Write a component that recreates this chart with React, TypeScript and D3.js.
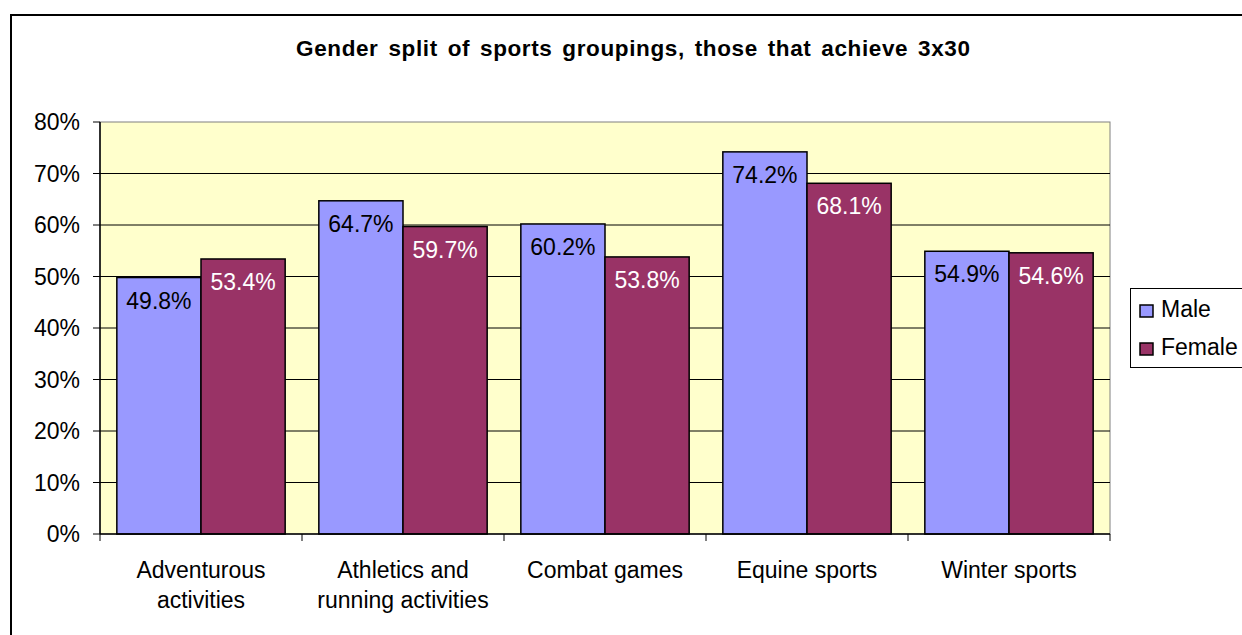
import React from "react";
import * as d3 from "d3";

const categories = [
  ["Adventurous", "activities"],
  ["Athletics and", "running activities"],
  ["Combat games"],
  ["Equine sports"],
  ["Winter sports"],
];
const seriesNames = ["Male", "Female"];
const maleValues = [49.8, 64.7, 60.2, 74.2, 54.9];
const femaleValues = [53.4, 59.7, 53.8, 68.1, 54.6];
const yTicks = [0, 10, 20, 30, 40, 50, 60, 70, 80];
const title = "Gender split of sports groupings, those that achieve 3x30";

const W = 1242;
const H = 635;
const FONT = "'Liberation Sans', Arial, sans-serif";
const colors = ["#9999FF", "#993366"];
const labelColors = ["#000000", "#FFFFFF"];

export default function App() {
  const plot = { left: 100, right: 1110, top: 122, bottom: 534 };
  const x = d3
    .scaleBand<number>()
    .domain(d3.range(categories.length))
    .range([plot.left, plot.right])
    .paddingInner(0)
    .paddingOuter(0);
  const y = d3.scaleLinear().domain([0, 80]).range([plot.bottom, plot.top]);
  const inner = d3
    .scaleBand<number>()
    .domain([0, 1])
    .range([0, x.bandwidth()])
    .paddingOuter(0.2)
    .paddingInner(0);
  const series = [maleValues, femaleValues];

  return (
    <svg
      width={W}
      height={H}
      style={{ position: "absolute", left: 0, top: 0, display: "block" }}
      fontFamily={FONT}
    >
      <rect x={0} y={0} width={W} height={H} fill="#fff" />
      {/* outer border */}
      <rect x={11} y={15} width={W + 50} height={H + 50} fill="none" stroke="#000" strokeWidth={2} />
      {/* title */}
      <text
        x={633}
        y={56}
        textAnchor="middle"
        fontSize={22.5}
        fontWeight="bold"
        textLength={674}
        lengthAdjust="spacing"
        style={{ wordSpacing: "3px" }}
      >
        {title}
      </text>
      {/* plot area */}
      <rect
        x={plot.left}
        y={plot.top}
        width={plot.right - plot.left}
        height={plot.bottom - plot.top}
        fill="#FFFFCC"
        stroke="#808080"
        strokeWidth={1}
      />
      {/* gridlines */}
      {yTicks.slice(1, -1).map((t) => (
        <line key={t} x1={plot.left} x2={plot.right} y1={y(t)} y2={y(t)} stroke="#000" strokeWidth={1} />
      ))}
      {/* bars */}
      {series.map((vals, s) =>
        vals.map((v, i) => {
          const bx = (x(i) as number) + (inner(s) as number);
          return (
            <rect
              key={`${s}-${i}`}
              x={bx}
              y={y(v)}
              width={inner.bandwidth()}
              height={y(0) - y(v)}
              fill={colors[s]}
              stroke="#000"
              strokeWidth={1.5}
            />
          );
        })
      )}
      {/* value labels */}
      {series.map((vals, s) =>
        vals.map((v, i) => {
          const bx = (x(i) as number) + (inner(s) as number) + inner.bandwidth() / 2;
          return (
            <text
              key={`l-${s}-${i}`}
              x={bx}
              y={y(v) + 31}
              textAnchor="middle"
              fontSize={23}
              fill={labelColors[s]}
            >
              {v.toFixed(1)}%
            </text>
          );
        })
      )}
      {/* y axis */}
      <line x1={plot.left} x2={plot.left} y1={plot.top} y2={plot.bottom} stroke="#000" strokeWidth={1.5} />
      {yTicks.map((t) => (
        <g key={`yt-${t}`}>
          <line x1={plot.left - 7} x2={plot.left} y1={y(t)} y2={y(t)} stroke="#000" strokeWidth={1} />
          <text x={80} y={y(t) + 8} textAnchor="end" fontSize={23}>
            {t}%
          </text>
        </g>
      ))}
      {/* x axis */}
      <line x1={plot.left} x2={plot.right} y1={plot.bottom} y2={plot.bottom} stroke="#000" strokeWidth={1.5} />
      {d3.range(categories.length + 1).map((i) => {
        const tx = i < categories.length ? (x(i) as number) : plot.right;
        return <line key={`xt-${i}`} x1={tx} x2={tx} y1={plot.bottom} y2={plot.bottom + 7} stroke="#000" strokeWidth={1} />;
      })}
      {categories.map((lines, i) => (
        <text
          key={`c-${i}`}
          x={(x(i) as number) + x.bandwidth() / 2}
          y={578}
          textAnchor="middle"
          fontSize={23}
        >
          {lines.map((ln, k) => (
            <tspan key={k} x={(x(i) as number) + x.bandwidth() / 2} dy={k === 0 ? 0 : 30}>
              {ln}
            </tspan>
          ))}
        </text>
      ))}
      {/* legend */}
      <rect x={1130.5} y={288.5} width={140} height={79} fill="#fff" stroke="#000" strokeWidth={1} />
      {seriesNames.map((n, s) => (
        <g key={`lg-${s}`}>
          <rect x={1140} y={305 + s * 38} width={13} height={12} fill={colors[s]} stroke="#000" strokeWidth={1.5} />
          <text x={1161} y={317 + s * 38} fontSize={23}>
            {n}
          </text>
        </g>
      ))}
    </svg>
  );
}
